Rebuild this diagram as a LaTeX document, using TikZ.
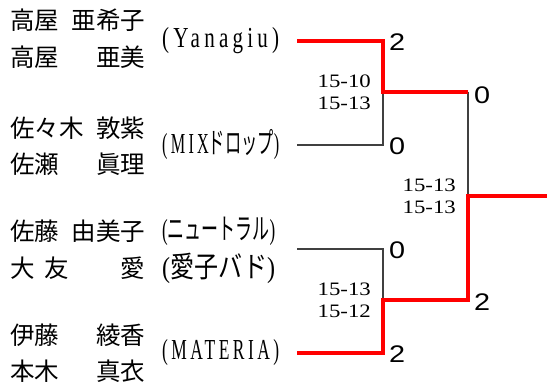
\documentclass[tikz,border=0pt]{standalone}
\usepackage{fontspec}
\setmainfont{Liberation Serif}
\newfontfamily\jpfont{Noto Sans CJK JP}
\newfontfamily\clublatin{Liberation Serif}[LetterSpace=20]
\newfontfamily\clubjp{Noto Sans CJK JP}
\newfontfamily\digitfont{Liberation Sans}
\usetikzlibrary{positioning}
\tikzset{
  player/.style={anchor=west, inner sep=0pt, font=\jpfont\fontsize{24.5}{24.5}\selectfont},
  club/.style={anchor=west, inner sep=0pt, font=\clublatin\fontsize{29}{29}\selectfont},
  score/.style={inner sep=0pt, align=right, font=\fontsize{19}{22}\selectfont},
  result/.style={inner sep=0pt, font=\digitfont\fontsize{24}{24}\selectfont},
  loseline/.style={draw=black!75, line width=1.2pt},
  winline/.style={draw=red, line width=4.5pt}
}
\newcommand\pname[2]{\makebox[135pt][l]{#1\hfill#2}}
\newcommand\clubtext[2]{\resizebox{#1}{\height}{#2}}
\newcommand\wide[1]{\scalebox{1.2}[1]{#1}}
\newcommand\gamecount[1]{\scalebox{1.2}[1]{#1}}

\begin{document}
\begin{tikzpicture}[x=1pt,y=-1pt]
\useasboundingbox (0,0) rectangle (547,385);

% players
\node[player] (n1a) at (10,20) {\pname{高屋}{亜希子}};
\node[player] (n1b) at (10,57) {\pname{高屋}{亜美}};
\node[player] (n2a) at (10,128) {\pname{佐々木}{敦紫}};
\node[player] (n2b) at (10,164) {\pname{佐瀬}{眞理}};
\node[player] (n3a) at (10,231) {\pname{佐藤}{由美子}};
\node[player] (n3b) at (10,268) {\pname{大\hspace{10pt}友}{愛}};
\node[player] (n4a) at (10,335) {\pname{伊藤}{綾香}};
\node[player] (n4b) at (10,371) {\pname{本木}{真衣}};

% clubs
\node[club] (t1) at (162,41) {\clubtext{117pt}{(Yanagiu)}};
\node[club] (t2) at (162,145) {\clubtext{117pt}{(MIX{\clubjp ドロップ})}};
\node[club] (t3a) at (162,231) {\clubtext{113pt}{({\clubjp ニュートラル})}};
\node[club] (t3b) at (162,268) {\clubtext{113pt}{({\clubjp 愛子バド})}};
\node[club] (t4) at (162,353) {\clubtext{117pt}{(MATERIA)}};

% bracket
\coordinate (e1) at (297,41);
\coordinate (e2) at (297,145);
\coordinate (e3) at (297,249);
\coordinate (e4) at (297,353);
\coordinate (m1) at (383,92);
\coordinate (m2) at (383,300);
\coordinate (k1) at (468,92);
\coordinate (k2) at (468,300);
\coordinate (f) at (468,196);
\coordinate (w) at (547,196);

\draw[loseline] (e2) -| (m1);
\draw[loseline] (e3) -| (m2);
\draw[loseline] (k1) -- (f);
\draw[winline] (e1) -| (m1) -- (k1);
\draw[winline] (e4) -| (m2) -- (k2) -- (f) -- (w);

% games
\node[result, anchor=west] (r1) at (389,42) {\gamecount{2}};
\node[result, anchor=west] (r2) at (389,146) {\gamecount{0}};
\node[result, anchor=west] (r3) at (389,250) {\gamecount{0}};
\node[result, anchor=west] (r4) at (389,354) {\gamecount{2}};
\node[result, anchor=west] (r5) at (474,95) {\gamecount{0}};
\node[result, anchor=west] (r6) at (474,302) {\gamecount{2}};

\node[score, left=12pt of m1] (s1) {\wide{15-10}\\\wide{15-13}};
\node[score, left=12pt of m2] (s2) {\wide{15-13}\\\wide{15-12}};
\node[score, left=12pt of f] (s3) {\wide{15-13}\\\wide{15-13}};

\end{tikzpicture}
\end{document}
